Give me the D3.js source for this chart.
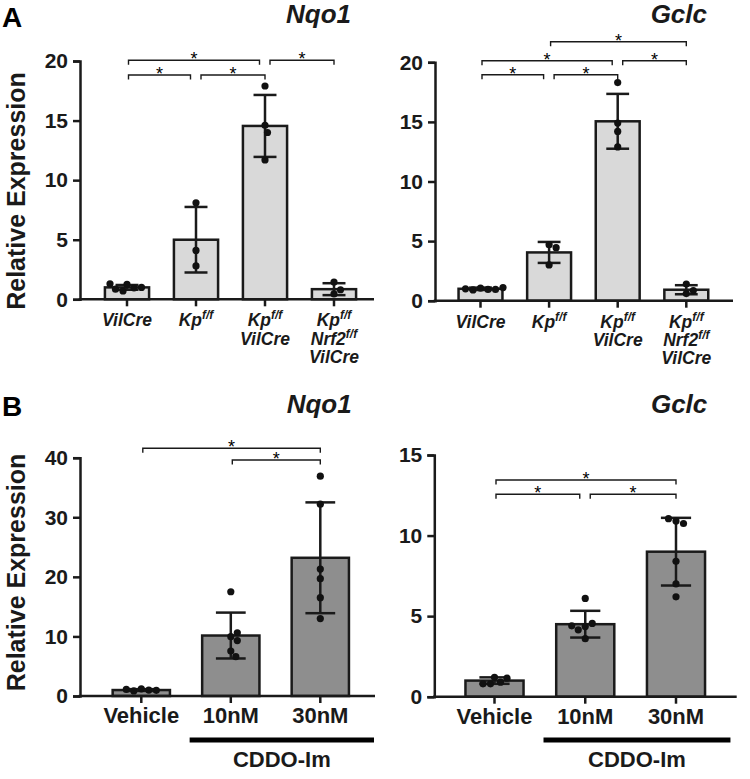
<!DOCTYPE html>
<html>
<head>
<meta charset="utf-8">
<script src="https://cdn.jsdelivr.net/npm/d3@7"></script>
<style>
  html, body { margin: 0; padding: 0; background: #fff; }
  svg { display: block; font-family: "Liberation Sans", Arial, Helvetica, sans-serif; }
</style>
</head>
<body>
<svg id="chart" width="750" height="779"></svg>
<script>
// ---------------- DATA ----------------
const groupsA = ["VilCre", "Kp^f/f", "Kp^f/f|VilCre", "Kp^f/f|Nrf2^f/f|VilCre"];
const groupsB = ["Vehicle", "10nM", "30nM"];

const ticksA = [0, 5, 10, 15, 20];
const ticksBNqo1 = [0, 10, 20, 30, 40];
const ticksBGclc = [0, 5, 10, 15];

// Panel A, Nqo1
const nqo1A_mean = [1.0, 5.0, 14.55, 0.85];
const nqo1A_sd = [0.2, 2.75, 2.6, 0.5];
const nqo1A_pts = [
  [1.25, 0.95, 0.7, 0.85, 1.0, 1.3],
  [8.1, 4.1, 2.8],
  [17.9, 14.6, 14.0, 11.7],
  [1.45, 0.45, 0.8]
];
// Panel A, Gclc
const gclcA_mean = [1.0, 4.05, 15.05, 0.92];
const gclcA_sd = [0.1, 0.88, 2.3, 0.38];
const gclcA_pts = [
  [1.05, 0.95, 0.9, 0.95, 1.0, 1.1],
  [4.7, 4.45, 3.0],
  [18.3, 14.9, 14.2, 12.9],
  [1.4, 0.6, 0.85]
];
// Panel B, Nqo1
const nqo1B_mean = [1.0, 10.15, 23.2];
const nqo1B_sd = [0.15, 3.85, 9.3];
const nqo1B_pts = [
  [1.2, 1.0, 0.85, 0.95, 1.1],
  [17.5, 9.95, 10.6, 9.3, 7.55, 6.6],
  [36.9, 32.2, 21.3, 19.7, 16.5, 13.0]
];
// Panel B, Gclc
const gclcB_mean = [1.0, 4.5, 9.0];
const gclcB_sd = [0.2, 0.83, 2.1];
const gclcB_pts = [
  [1.2, 0.9, 0.8, 0.8, 1.15],
  [6.1, 4.35, 4.55, 4.15, 3.6, 4.4],
  [10.9, 10.75, 11.05, 8.4, 7.0, 6.2]
];

// significance brackets: [fromGroup, toGroup, level]
const sigA_Nqo1 = [[0, 1, 1], [1, 2, 1], [0, 2, 2], [2, 3, 2]];
const sigA_Gclc = [[0, 1, 1], [1, 2, 1], [0, 2, 2], [2, 3, 2], [1, 3, 3]];
const sigB_Nqo1 = [[1, 2, 1], [0, 2, 2]];
const sigB_Gclc = [[0, 1, 1], [1, 2, 1], [0, 2, 2]];

const panelLetters = ["A", "B"];
const treatmentLabel = "CDDO-Im";
const yLabel = "Relative Expression";

// ---------------- LAYOUT ----------------
const FONT = '"Liberation Sans", Arial, Helvetica, sans-serif';
const INK = "#1a1a1a";
const svg = d3.select("#chart");

const panels = [
  { title: "Nqo1", groups: groupsA, mean: nqo1A_mean, sd: nqo1A_sd, pts: nqo1A_pts, ticks: ticksA, sig: sigA_Nqo1,
    ax: 80, xEnd: 374, yTop: 61, yBot: 299.3, c0: 127, cN: 334, levels: {1: 75, 2: 60.3},
    titleX: 351, titleY: 23.3, fill: "#d9d9d9", italicLabels: true },
  { title: "Gclc", groups: groupsA, mean: gclcA_mean, sd: gclcA_sd, pts: gclcA_pts, ticks: ticksA, sig: sigA_Gclc,
    ax: 435, xEnd: 733, yTop: 62.3, yBot: 300.7, c0: 480.5, cN: 686.3, levels: {1: 74.7, 2: 60.8, 3: 41.7},
    titleX: 707, titleY: 23.3, fill: "#d9d9d9", italicLabels: true },
  { title: "Nqo1", groups: groupsB, mean: nqo1B_mean, sd: nqo1B_sd, pts: nqo1B_pts, ticks: ticksBNqo1, sig: sigB_Nqo1,
    ax: 80, xEnd: 375, yTop: 457.7, yBot: 696, c0: 141.3, cN: 320.3, levels: {1: 460, 2: 448.3},
    titleX: 351.7, titleY: 413.3, fill: "#8e8e8e", italicLabels: false, treatment: true },
  { title: "Gclc", groups: groupsB, mean: gclcB_mean, sd: gclcB_sd, pts: gclcB_pts, ticks: ticksBGclc, sig: sigB_Gclc,
    ax: 434.3, xEnd: 736.7, yTop: 455, yBot: 696.7, c0: 494.5, cN: 676, levels: {1: 494.3, 2: 480},
    titleX: 707.3, titleY: 413.3, fill: "#8e8e8e", italicLabels: false, treatment: true }
];

function swarm(vals, yS, cx, r) {
  const placed = [];
  return vals.map(v => {
    const py = yS(v);
    let dx = 0;
    for (let k = 0; k < 400; k++) {
      const cand = k === 0 ? 0 : (k % 2 ? 1 : -1) * Math.ceil(k / 2) * 0.5;
      if (placed.every(p => (p.x - (cx + cand)) ** 2 + (p.y - py) ** 2 >= (2 * r + 0.3) ** 2)) { dx = cand; break; }
    }
    const pt = { x: cx + dx, y: py };
    placed.push(pt);
    return pt;
  });
}

panels.forEach(P => {
  const n = P.groups.length;
  const step = (P.cN - P.c0) / (n - 1);
  const x = d3.scaleBand().domain(d3.range(n))
    .range([P.c0 - step / 2, P.cN + step / 2]).paddingInner(0.36).paddingOuter(0.18);
  const y = d3.scaleLinear().domain([0, d3.max(P.ticks)]).range([P.yBot, P.yTop]);
  const bw = x.bandwidth();
  const cx = i => x(i) + bw / 2;
  const g = svg.append("g");

  g.append("text").attr("class", "title").attr("x", P.titleX).attr("y", P.titleY).attr("text-anchor", "end")
    .attr("font-size", 26).attr("font-weight", "bold").attr("font-style", "italic").attr("fill", INK)
    .text(P.title);

  g.selectAll("rect.bar").data(P.mean).join("rect").attr("class", "bar")
    .attr("x", (d, i) => x(i)).attr("width", bw)
    .attr("y", d => y(d)).attr("height", d => y(0) - y(d))
    .attr("fill", P.fill).attr("stroke", INK).attr("stroke-width", 2.5);

  const cap = bw * 0.26;
  P.mean.forEach((m, i) => {
    const hi = y(m + P.sd[i]), lo = y(m - P.sd[i]);
    g.append("line").attr("x1", cx(i)).attr("x2", cx(i)).attr("y1", hi).attr("y2", lo)
      .attr("stroke", INK).attr("stroke-width", 2.5);
    [hi, lo].forEach(yy => g.append("line").attr("x1", cx(i) - cap).attr("x2", cx(i) + cap)
      .attr("y1", yy).attr("y2", yy).attr("stroke", INK).attr("stroke-width", 2.5));
  });

  P.pts.forEach((vals, i) => {
    const pos = swarm(vals, y, cx(i), 3.6);
    g.selectAll(null).data(pos).join("circle")
      .attr("cx", d => d.x).attr("cy", d => d.y).attr("r", 3.6).attr("fill", "#111");
  });

  const yAxis = d3.axisLeft(y).tickValues(P.ticks).tickSize(7).tickPadding(5).tickFormat(d3.format("d"));
  const ya = g.append("g").attr("transform", `translate(${P.ax},0)`).call(yAxis);
  ya.select(".domain").attr("stroke", INK).attr("stroke-width", 2.5);
  ya.selectAll(".tick line").attr("stroke", INK).attr("stroke-width", 2.5);
  ya.selectAll(".tick text").attr("font-size", 21).attr("font-weight", "bold").attr("font-family", FONT).attr("fill", INK);

  const xAxis = d3.axisBottom(x).tickSize(7).tickFormat("");
  const xa = g.append("g").attr("transform", `translate(0,${P.yBot})`).call(xAxis);
  xa.select(".domain").remove();
  xa.selectAll(".tick line").attr("stroke", INK).attr("stroke-width", 2.5);
  g.append("line").attr("x1", P.ax - 1.25).attr("x2", P.xEnd).attr("y1", P.yBot).attr("y2", P.yBot)
    .attr("stroke", INK).attr("stroke-width", 2.5);

  P.groups.forEach((lab, i) => {
    const lines = lab.split("|");
    lines.forEach((ln, li) => {
      const t = g.append("text").attr("x", cx(i)).attr("text-anchor", "middle")
        .attr("font-weight", "bold").attr("fill", INK)
        .attr("font-style", P.italicLabels ? "italic" : "normal");
      if (P.italicLabels) {
        t.attr("y", P.yBot + 27 + li * 18.3).attr("font-size", 17.5);
        const parts = ln.split("^");
        t.append("tspan").text(parts[0]);
        if (parts[1]) t.append("tspan").attr("font-size", 12).attr("dy", -7).text(parts[1]);
      } else {
        t.attr("y", P.yBot + 27.3).attr("font-size", 22).text(ln);
      }
    });
  });

  if (P.treatment) {
    const x1 = cx(1) - 0.46 * step, x2 = cx(2) + 0.6 * step;
    g.append("line").attr("x1", x1).attr("x2", x2).attr("y1", 740).attr("y2", 740)
      .attr("stroke", "#000").attr("stroke-width", 5);
    g.append("text").attr("x", (x1 + x2) / 2).attr("y", 766.7).attr("text-anchor", "middle")
      .attr("font-size", 22).attr("font-weight", "bold").attr("fill", INK).text(treatmentLabel);
  }

  P.sig.forEach(([a, b, lev]) => {
    const yy = P.levels[lev];
    const sharedLeft = P.sig.some(s => s[2] === lev && s[1] === a);
    const sharedRight = P.sig.some(s => s[2] === lev && s[0] === b);
    const xl = cx(a) + (sharedLeft ? 5 : 1.5);
    const xr = cx(b) - (sharedRight ? 5.5 : 0);
    g.append("path").attr("d", `M${xl},${yy + 4.5}V${yy}H${xr}V${yy + 4.5}`)
      .attr("fill", "none").attr("stroke", INK).attr("stroke-width", 1.4);
    g.append("text").attr("x", (xl + xr) / 2).attr("y", yy + 5).attr("text-anchor", "middle")
      .attr("font-size", 18).attr("fill", "#000").text("*");
  });
});

[[2, 27], [2, 416]].forEach((p, i) => {
  svg.append("text").attr("x", p[0]).attr("y", p[1]).attr("font-size", 28).attr("font-weight", "bold")
    .attr("fill", "#000").text(panelLetters[i]);
});

[191, 572.5].forEach(cy => {
  svg.append("text").attr("transform", `translate(25,${cy}) rotate(-90)`).attr("text-anchor", "middle")
    .attr("font-size", 25).attr("font-weight", "bold").attr("fill", INK)
    .text(yLabel);
});
</script>
</body>
</html>
